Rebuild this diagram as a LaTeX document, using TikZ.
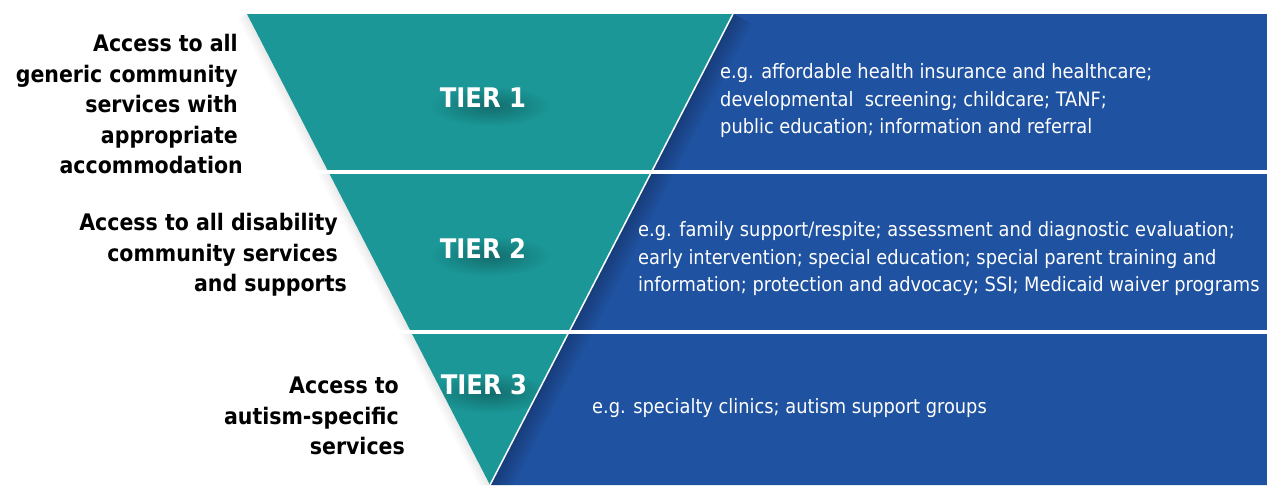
\documentclass[tikz,border=0pt]{standalone}
\usepackage{fontspec}
\setmainfont{DejaVu Sans Condensed}
\usetikzlibrary{fadings}
\tikzfading[name=softfade, inner color=transparent!0, outer color=transparent!100]
\definecolor{tealC}{RGB}{27,151,151}
\definecolor{blueC}{RGB}{31,82,160}
\tikzset{
  leftlabel/.style={font=\bfseries\fontsize{22.8}{30.5}\selectfont, align=right, anchor=east, text=black, inner sep=0pt},
  desc/.style={font=\fontsize{19.8}{27.5}\selectfont, align=left, anchor=west, text=white, inner sep=0pt},
  tier/.style={font=\bfseries\fontsize{27}{32}\selectfont, text=white, inner sep=0pt},
  softshadow/.style={black, opacity=0.28, path fading=softfade},
  sep/.style={white, line width=4pt}
}
\begin{document}
\begin{tikzpicture}[x=1pt,y=-1pt]
\useasboundingbox (0,0) rectangle (1267,485);
\fill[white] (0,0) rectangle (1267,485);
% blue background
\fill[blueC] (733,14) -- (1267,14) -- (1267,485) -- (490,485) -- cycle;
% darker shade of the blue along the diagonal edge
\begin{scope}
  \clip (733,14) -- (1267,14) -- (1267,485) -- (490,485) -- cycle;
  \foreach \w in {6,12,...,42} {
    \draw[black, opacity=0.03, line width=\w pt] (733,14) -- (490,485);
  }
\end{scope}
% faint grey shade on the white along the left edge
\begin{scope}
  \clip (0,14) -- (247,14) -- (490,485) -- (0,485) -- cycle;
  \foreach \w in {4,8,...,20} {
    \draw[black, opacity=0.015, line width=\w pt] (247,14) -- (490,485);
  }
\end{scope}
% teal inverted triangle
\fill[tealC] (247,14) -- (733,14) -- (490,485) -- cycle;
% soft shadows under the tier labels
\begin{scope}
  \clip (247,14) -- (733,14) -- (490,485) -- cycle;
  \fill[softshadow] (490,106) ellipse (60pt and 20pt);
  \fill[softshadow] (490,256) ellipse (60pt and 20pt);
  \fill[softshadow] (490,393) ellipse (60pt and 20pt);
\end{scope}
\draw[white, line width=1.5pt] (733,14) -- (490,485);
% separators
\draw[sep] (300,172) -- (1267,172);
\draw[sep] (380,332) -- (1267,332);
% tier labels
\node[tier] (t1) at (483,98) {TIER 1};
\node[tier] (t2) at (483,248) {TIER 2};
\node[tier] (t3) at (484,385) {TIER 3};
% left labels
\node[leftlabel] (l1) at (238,104) {Access to all\\generic community\\services with\\appropriate\\accommodation\hspace*{-5pt}};
\node[leftlabel] (l2) at (338,255) {Access to all disability\\community services\\and supports\hspace*{-9pt}};
\node[leftlabel] (l3) at (399,416) {Access to\\autism-specific\\services\hspace*{-6pt}};
% descriptions
\node[desc] (d1) at (720,101) {e.g. affordable health insurance and healthcare;\\developmental\ \ screening; childcare; TANF;\\public education; information and referral};
\node[desc] (d2) at (638,259) {e.g. family support/respite; assessment and diagnostic evaluation;\\early intervention; special education; special parent training and\\information; protection and advocacy; SSI; Medicaid waiver programs};
\node[desc] (d3) at (592,408) {e.g. specialty clinics; autism support groups};
\end{tikzpicture}
\end{document}
